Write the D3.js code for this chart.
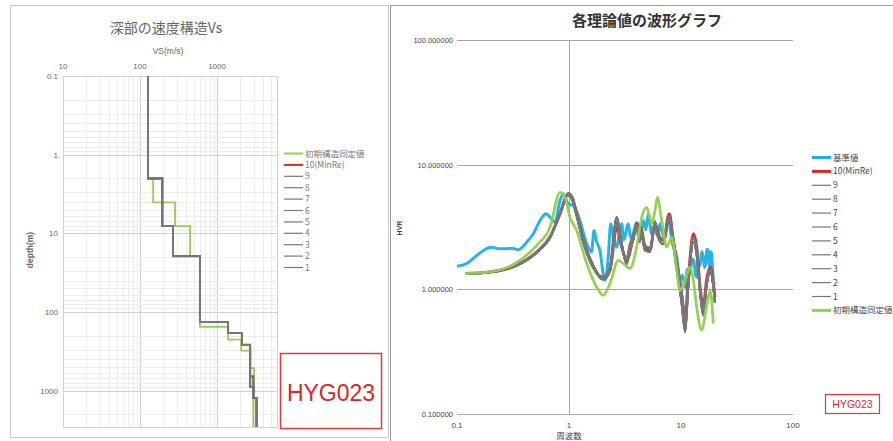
<!DOCTYPE html>
<html>
<head>
<meta charset="utf-8">
<script src="https://cdn.jsdelivr.net/npm/d3@7"></script>
<style>
  body { margin: 0; background: #fff; }
  svg { display: block; font-family: "Liberation Sans", "Noto Sans CJK JP", sans-serif; }
  .jp { font-family: "Noto Sans CJK JP", sans-serif; }
</style>
</head>
<body>
<div id="chart"></div>
<script>
// ---- left chart: Vs profiles (layer bottom depth in m, Vs in m/s) ----
var vsTicks = [10, 100, 1000];
var depthTicks = [0.1, 1, 10, 100, 1000];
var initBottoms = [2.0, 4.05, 8.1, 19.5, 155, 225, 310, 516, 1180, 2900];
var initVs      = [127, 148, 285, 446, 600, 1390, 2060, 2690, 3020, 2960];
var minReBottoms = [2.0, 8.1, 19.5, 134, 185, 262, 900, 1240, 2900];
var minReVs      = [127, 196, 268, 600, 1390, 2100, 2690, 2960, 3270];
var grayABottoms = [2.0, 8.1, 19.5, 134, 185, 262, 900, 1240, 2900];
var grayAVs      = [127, 193, 268, 600, 1390, 2100, 2690, 2960, 3270];
var grayBBottoms = [2.0, 8.1, 19.5, 134, 185, 262, 660, 1240, 2900];
var grayBVs      = [127, 193, 268, 600, 1390, 2100, 2690, 2960, 3270];
var leftNames = ["初期構造同定値", "10(MinRe)", "9", "8", "7", "6", "5", "4", "3", "2", "1"];

// ---- right chart: HVR curves (frequency Hz, HVR) ----
var freqTicks = [0.1, 1, 10, 100];
var hvrTicks = [0.1, 1, 10, 100];
var obsFreq = [0.1, 0.122, 0.15, 0.184, 0.204, 0.234, 0.278, 0.308, 0.352, 0.419, 0.48, 0.551, 0.624, 0.677, 0.75, 0.831, 0.889, 0.986, 1.09, 1.13, 1.25, 1.44, 1.59, 1.67, 1.77, 1.89, 2.02, 2.10, 2.24, 2.36, 2.49, 2.67, 2.80, 2.96, 3.06, 3.16, 3.27, 3.38, 3.55, 3.75, 4.02, 4.15, 4.30, 4.61, 4.85, 5.11, 5.47, 5.86, 6.15, 6.49, 6.80, 7.20, 7.71, 8.26, 9.16, 9.80, 10.3, 10.9, 11.4, 12.0, 12.5, 13.0, 13.4, 13.8, 14.3, 14.8, 15.3, 15.8, 16.2, 16.6, 17.0, 17.5, 17.9, 18.2, 18.5, 18.8, 19.1, 19.4];
var obsHvr  = [1.53, 1.61, 1.87, 2.12, 2.18, 2.12, 2.12, 2.14, 2.08, 2.39, 2.79, 3.56, 4.03, 3.79, 3.45, 5.15, 5.83, 4.85, 4.70, 4.53, 3.56, 2.33, 1.99, 2.96, 2.39, 2.05, 1.34, 1.18, 1.81, 3.36, 2.62, 2.18, 2.70, 3.36, 2.50, 2.62, 3.10, 3.36, 2.60, 2.79, 3.45, 2.80, 2.62, 3.56, 3.00, 4.03, 2.79, 3.15, 2.70, 3.36, 2.85, 2.62, 3.79, 2.47, 1.81, 1.18, 1.30, 1.04, 1.45, 1.34, 1.75, 1.70, 1.35, 1.25, 1.60, 1.55, 2.00, 1.81, 1.50, 1.60, 2.10, 2.05, 1.55, 1.65, 2.00, 1.90, 1.50, 1.18];
var minReFreq = [0.118, 0.197, 0.341, 0.515, 0.677, 0.831, 0.986, 1.06, 1.17, 1.34, 1.65, 2.02, 2.32, 2.67, 2.96, 3.27, 3.75, 4.02, 4.46, 4.77, 5.29, 5.86, 6.27, 6.95, 7.86, 8.53, 9.16, 10.1, 10.9, 11.6, 12.9, 13.8, 14.8, 15.8, 16.9, 18.2, 20.1];
var minReHvr  = [1.34, 1.38, 1.56, 1.99, 2.62, 4.03, 5.83, 5.47, 4.03, 2.47, 1.51, 1.22, 1.42, 3.15, 2.18, 1.71, 2.62, 3.36, 2.96, 2.18, 2.05, 3.36, 2.79, 2.47, 4.03, 2.47, 1.61, 0.92, 0.60, 1.18, 2.79, 2.18, 1.04, 0.72, 1.18, 1.51, 0.87];
var grayAFreq = [0.118, 0.197, 0.341, 0.515, 0.677, 0.831, 0.97, 1.06, 1.17, 1.34, 1.65, 2.02, 2.32, 2.67, 2.96, 3.27, 3.50, 3.75, 4.02, 4.25, 4.46, 4.77, 5.29, 5.86, 6.27, 6.95, 7.86, 8.53, 9.16, 10.1, 10.9, 11.6, 12.9, 13.8, 14.8, 15.8, 16.9, 18.2, 20.1];
var grayAHvr  = [1.34, 1.37, 1.55, 1.97, 2.60, 4.10, 5.70, 5.30, 3.90, 2.40, 1.48, 1.25, 1.50, 3.79, 2.30, 1.60, 2.10, 2.50, 3.20, 2.40, 2.70, 2.05, 2.00, 3.50, 2.60, 2.30, 3.90, 2.30, 1.45, 0.80, 0.455, 1.05, 2.40, 1.90, 0.95, 0.62, 1.05, 1.40, 0.80];
var grayBFreq = [0.118, 0.197, 0.341, 0.515, 0.677, 0.831, 0.99, 1.07, 1.17, 1.34, 1.65, 2.02, 2.32, 2.67, 2.96, 3.27, 3.50, 3.75, 4.02, 4.25, 4.46, 4.77, 5.29, 5.86, 6.27, 6.95, 7.86, 8.53, 9.16, 10.1, 10.9, 11.6, 12.9, 13.8, 14.8, 15.8, 16.9, 18.2, 20.1];
var grayBHvr  = [1.33, 1.38, 1.57, 2.00, 2.65, 4.00, 5.90, 5.50, 4.10, 2.55, 1.55, 1.20, 1.40, 3.40, 2.20, 1.75, 2.30, 2.70, 3.30, 2.60, 2.90, 2.25, 2.15, 3.20, 2.70, 2.55, 3.70, 2.55, 1.70, 0.98, 0.55, 1.10, 2.60, 2.05, 1.00, 0.68, 1.10, 1.45, 0.78];
var initFreq = [0.118, 0.197, 0.341, 0.515, 0.677, 0.831, 0.921, 1.02, 1.17, 1.44, 1.77, 2.02, 2.32, 2.76, 3.05, 3.50, 4.02, 4.46, 4.94, 5.47, 5.86, 6.14, 6.73, 7.45, 8.26, 9.16, 9.80, 10.9, 12.0, 12.9, 13.8, 15.3, 16.9, 18.2, 19.4];
var initHvr  = [1.34, 1.38, 1.64, 2.25, 3.15, 6.00, 5.47, 3.79, 2.96, 1.61, 1.04, 0.895, 1.11, 1.71, 1.61, 1.47, 2.18, 3.79, 4.55, 3.36, 4.29, 5.47, 3.56, 2.18, 2.62, 1.42, 0.98, 1.18, 1.51, 1.18, 0.72, 0.47, 0.72, 0.98, 0.53];
var rightNames = ["基準値", "10(MinRe)", "9", "8", "7", "6", "5", "4", "3", "2", "1", "初期構造同定値"];

var GREEN = "#92cf50", RED = "#d02a2a", GRAY = "#777777", BLUE = "#1eaee4";

var svg = d3.select("#chart").append("svg")
    .attr("width", 893).attr("height", 441);

// panel frames
svg.append("rect").attr("x", 10.5).attr("y", 5.5).attr("width", 378).attr("height", 432)
    .attr("fill", "none").attr("stroke", "#c8c8c8");
svg.append("line").attr("x1", 390).attr("x2", 893).attr("y1", 5.5).attr("y2", 5.5)
    .attr("stroke", "#999");
svg.append("line").attr("x1", 390.5).attr("x2", 390.5).attr("y1", 5).attr("y2", 441)
    .attr("stroke", "#999");

// ================= left chart =================
var lx = d3.scaleLog().domain([10, 6000]).range([63, 277]);
var ly = d3.scaleLog().domain([0.1, 2900]).range([76, 427]);
var left = svg.append("g");

function logMinor(lo, hi) {
  var out = [];
  for (var p = Math.floor(Math.log10(lo)); p <= Math.ceil(Math.log10(hi)); p++) {
    for (var k = 1; k < 10; k++) {
      var v = k * Math.pow(10, p);
      if (v >= lo && v <= hi) out.push(v);
    }
  }
  return out;
}

left.append("g").selectAll("line").data(logMinor(10, 6000)).enter().append("line")
    .attr("x1", function(d) { return Math.round(lx(d)) + 0.5; })
    .attr("x2", function(d) { return Math.round(lx(d)) + 0.5; })
    .attr("y1", 76).attr("y2", 427)
    .attr("stroke", function(d) { return vsTicks.indexOf(d) >= 0 ? "#d0d0d0" : "#ececec"; });
left.append("g").selectAll("line").data(logMinor(0.1, 2900)).enter().append("line")
    .attr("y1", function(d) { return Math.round(ly(d)) + 0.5; })
    .attr("y2", function(d) { return Math.round(ly(d)) + 0.5; })
    .attr("x1", 63).attr("x2", 277)
    .attr("stroke", function(d) { return depthTicks.indexOf(d) >= 0 ? "#d0d0d0" : "#ececec"; });
left.append("rect").attr("x", 63.5).attr("y", 76.5).attr("width", 214).attr("height", 351)
    .attr("fill", "none").attr("stroke", "#d0d0d0");

left.selectAll(".xt").data(vsTicks).enter().append("text")
    .attr("x", function(d) { return lx(d); }).attr("y", 69)
    .attr("text-anchor", "middle").attr("font-size", 8).attr("fill", "#666")
    .text(function(d) { return d; });
left.selectAll(".yt").data(depthTicks).enter().append("text")
    .attr("x", 58).attr("y", function(d) { return ly(d) + 3; })
    .attr("text-anchor", "end").attr("font-size", 8).attr("fill", "#666")
    .text(function(d) { return d; });

left.append("text").attr("class", "jp").attr("x", 166).attr("y", 33)
    .attr("text-anchor", "middle").attr("font-size", 14).attr("fill", "#666")
    .text("深部の速度構造Vs");
left.append("text").attr("x", 168).attr("y", 54)
    .attr("text-anchor", "middle").attr("font-size", 8.5).attr("fill", "#666")
    .text("VS(m/s)");
left.append("text").attr("transform", "translate(33,250) rotate(-90)")
    .attr("text-anchor", "middle").attr("font-size", 8.5).attr("font-weight", "bold")
    .attr("fill", "#666").text("depth(m)");

function stepPoints(bottoms, vs) {
  var pts = [], top = 0.1;
  bottoms.forEach(function(b, i) {
    pts.push([vs[i], top]);
    pts.push([vs[i], b]);
    top = b;
  });
  return pts;
}
var profLine = d3.line().x(function(d) { return lx(d[0]); }).y(function(d) { return ly(d[1]); });

var leftSeries = [
  { name: leftNames[0], pts: stepPoints(initBottoms, initVs), color: GREEN, w: 1.8 },
  { name: leftNames[1], pts: stepPoints(minReBottoms, minReVs), color: RED, w: 2 }
];
for (var i = 2; i < leftNames.length; i++) {
  var useA = i % 2 === 0;
  leftSeries.push({ name: leftNames[i],
    pts: useA ? stepPoints(grayABottoms, grayAVs) : stepPoints(grayBBottoms, grayBVs),
    color: GRAY, w: 1.7 });
}
left.append("g").selectAll("path").data(leftSeries).enter().append("path")
    .attr("d", function(d) { return profLine(d.pts); })
    .attr("fill", "none").attr("stroke", function(d) { return d.color; })
    .attr("stroke-width", function(d) { return d.w; });

var lleg = left.append("g").selectAll("g").data(leftSeries).enter().append("g")
    .attr("transform", function(d, i) { return "translate(0," + (153.5 + i * 11.4) + ")"; });
lleg.append("line").attr("x1", 284).attr("x2", 303)
    .attr("stroke", function(d) { return d.color; })
    .attr("stroke-width", function(d, i) { return i < 2 ? 2 : 1.2; });
lleg.append("text").attr("class", "jp").attr("x", 305).attr("y", 3)
    .attr("font-size", 8.5).attr("fill", "#777").text(function(d) { return d.name; });

left.append("rect").attr("x", 280.5).attr("y", 353.5).attr("width", 101).attr("height", 75)
    .attr("fill", "#fff").attr("stroke", "#e0383c").attr("stroke-width", 1.5);
left.append("text").attr("x", 331).attr("y", 401).attr("text-anchor", "middle")
    .attr("font-family", "Liberation Sans, sans-serif")
    .attr("font-size", 23).attr("fill", "#d9262b").text("HYG023");

// ================= right chart =================
var rx = d3.scaleLog().domain([0.1, 100]).range([457, 793]);
var ry = d3.scaleLog().domain([0.1, 100]).range([414, 40]);
var right = svg.append("g");

right.selectAll(".hg").data(hvrTicks).enter().append("line")
    .attr("x1", 457).attr("x2", 793)
    .attr("y1", function(d) { return Math.round(ry(d)) + 0.5; })
    .attr("y2", function(d) { return Math.round(ry(d)) + 0.5; })
    .attr("stroke", "#a6a6a6");
right.append("line").attr("x1", Math.round(rx(1)) + 0.5).attr("x2", Math.round(rx(1)) + 0.5)
    .attr("y1", 40).attr("y2", 414).attr("stroke", "#a6a6a6");

right.selectAll(".yt").data(hvrTicks).enter().append("text")
    .attr("x", 453).attr("y", function(d) { return ry(d) + 3; })
    .attr("text-anchor", "end").attr("font-size", 7.5).attr("fill", "#444")
    .text(function(d) { return d3.format(".6f")(d); });
right.selectAll(".xt").data(freqTicks).enter().append("text")
    .attr("x", function(d) { return rx(d); }).attr("y", 428)
    .attr("text-anchor", "middle").attr("font-size", 8).attr("fill", "#444")
    .text(function(d) { return d; });

right.append("text").attr("class", "jp").attr("x", 647).attr("y", 26)
    .attr("text-anchor", "middle").attr("font-size", 15).attr("font-weight", "bold")
    .attr("fill", "#333").text("各理論値の波形グラフ");
right.append("text").attr("class", "jp").attr("x", 569).attr("y", 439)
    .attr("text-anchor", "middle").attr("font-size", 8.5).attr("fill", "#444").text("周波数");
right.append("text").attr("transform", "translate(402,228) rotate(-90)")
    .attr("text-anchor", "middle").attr("font-size", 7).attr("font-weight", "bold")
    .attr("fill", "#444").text("HVR");

function zipPts(f, h) { return f.map(function(v, i) { return [v, h[i]]; }); }
var hvrLine = d3.line().x(function(d) { return rx(d[0]); }).y(function(d) { return ry(d[1]); })
    .curve(d3.curveMonotoneX);

var rightSeries = [
  { name: rightNames[0], pts: zipPts(obsFreq, obsHvr), color: BLUE, w: 3 },
  { name: rightNames[1], pts: zipPts(minReFreq, minReHvr), color: RED, w: 3 }
];
for (var j = 2; j <= 10; j++) {
  rightSeries.push({ name: rightNames[j],
    pts: j % 2 === 0 ? zipPts(grayAFreq, grayAHvr) : zipPts(grayBFreq, grayBHvr),
    color: GRAY, w: 2 });
}
rightSeries.push({ name: rightNames[11], pts: zipPts(initFreq, initHvr), color: GREEN, w: 2.8 });

right.append("g").selectAll("path").data(rightSeries).enter().append("path")
    .attr("d", function(d) { return hvrLine(d.pts); })
    .attr("fill", "none").attr("stroke", function(d) { return d.color; })
    .attr("stroke-width", function(d) { return d.w; })
    .attr("stroke-linejoin", "round").attr("opacity", 0.95);

var rleg = right.append("g").selectAll("g").data(rightSeries).enter().append("g")
    .attr("transform", function(d, i) { return "translate(0," + (157.5 + i * 13.9) + ")"; });
rleg.append("line").attr("x1", 812).attr("x2", 831)
    .attr("stroke", function(d) { return d.color; })
    .attr("stroke-width", function(d) { return d.color === GRAY ? 1.2 : 3; });
rleg.append("text").attr("class", "jp").attr("x", 833).attr("y", 3)
    .attr("font-size", 8.5).attr("fill", "#444").text(function(d) { return d.name; });

right.append("rect").attr("x", 825.5).attr("y", 394.5).attr("width", 54).attr("height", 19)
    .attr("fill", "#fff").attr("stroke", "#e0383c").attr("stroke-width", 1.2);
right.append("text").attr("x", 852.5).attr("y", 408).attr("text-anchor", "middle")
    .attr("font-size", 10.5).attr("fill", "#d9262b").text("HYG023");
</script>
</body>
</html>
